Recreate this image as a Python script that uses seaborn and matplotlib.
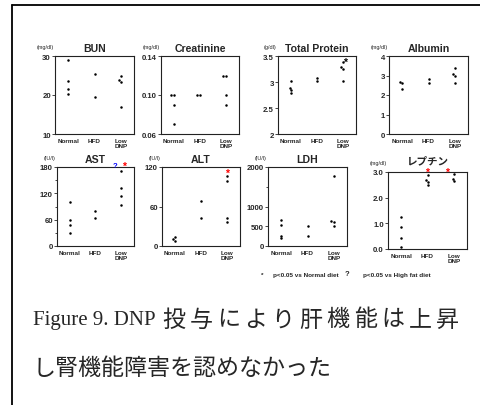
import numpy as np
import pandas as pd
import matplotlib
matplotlib.use("Agg")
import matplotlib.pyplot as plt
from matplotlib.ticker import FixedLocator
from matplotlib.lines import Line2D
import seaborn as sns

sns.set_style("ticks")
plt.rcParams["font.family"] = ["Liberation Sans", "Noto Sans CJK JP", "DejaVu Sans"]

groups = ["Normal", "HFD", "Low DNP"]
group_labels = ["Normal", "HFD", "Low\nDNP"]

# Serum chemistry per group
bun = [[29.0, 23.6, 21.6, 20.3], [25.5, 19.4], [23.4, 23.9, 24.8, 16.9]]
creatinine = [[0.10, 0.10, 0.09, 0.07], [0.10, 0.10], [0.12, 0.12, 0.10, 0.09]]
total_protein = [[3.02, 2.89, 2.85, 2.78], [3.08, 3.02], [3.02, 3.25, 3.28, 3.39]]
albumin = [[2.65, 2.60, 2.30], [2.82, 2.60], [2.60, 3.38, 2.99, 3.09]]
ast = [[101, 59, 47, 30], [64, 80], [172, 132, 115, 93]]
alt = [[13, 10, 7], [43, 68], [106, 98, 42, 36]]
ldh = [[666, 540, 261, 194], [245, 506], [1780, 625, 600, 498]]
leptin = [[1.26, 0.84, 0.44, 0.07], [2.89, 2.68, 2.60, 2.48], [2.92, 2.72, 2.63]]

panels = [
    dict(title="BUN", unit="(mg/dl)", values=bun, ylim=(10, 30),
         ticks=[10, 20, 30], labels=["10", "20", "30"], minor=[]),
    dict(title="Creatinine", unit="(mg/dl)", values=creatinine, ylim=(0.06, 0.14),
         ticks=[0.06, 0.10, 0.14], labels=["0.06", "0.10", "0.14"], minor=[]),
    dict(title="Total Protein", unit="(g/dl)", values=total_protein, ylim=(2, 3.5),
         ticks=[2, 2.5, 3, 3.5], labels=["2", "2.5", "3", "3.5"], minor=[]),
    dict(title="Albumin", unit="(mg/dl)", values=albumin, ylim=(0, 4),
         ticks=[0, 1, 2, 3, 4], labels=["0", "1", "2", "3", "4"], minor=[]),
    dict(title="AST", unit="(IU/l)", values=ast, ylim=(0, 180),
         ticks=[0, 60, 120, 180], labels=["0", "60", "120", "180"], minor=[30, 90, 150]),
    dict(title="ALT", unit="(IU/l)", values=alt, ylim=(0, 120),
         ticks=[0, 60, 120], labels=["0", "60", "120"], minor=[]),
    dict(title="LDH", unit="(IU/l)", values=ldh, ylim=(0, 2000),
         ticks=[0, 500, 1000, 2000], labels=["0", "500", "1000", "2000"], minor=[1500]),
    dict(title="レプチン", unit="(mg/dl)", values=leptin, ylim=(0, 3.0),
         ticks=[0, 1, 2, 3], labels=["0.0", "1.0", "2.0", "3.0"], minor=[]),
]

# Significance marks: (panel, group, y value, symbol, colour, x / y offsets in pt)
marks = [
    (2, 2, 3.39, "*", "black", 1.5, -2.4),
    (4, 2, 180, "?", "blue", -4.4, 0.2),
    (4, 2, 180, "*", "red", 2.0, -1.4),
    (5, 2, 106, "*", "red", 0.0, 0.4),
    (7, 1, 3.0, "*", "red", 0.0, -2.2),
    (7, 2, 3.0, "*", "red", -4.9, -2.2),
]

W, H = 480, 406
fig = plt.figure(figsize=(W / 100, H / 100), dpi=100)

# axes boxes in pixels: left, top, right, bottom
boxes = [
    (55, 57, 134, 135), (161, 57, 239, 135), (278, 57, 356, 135), (389, 57, 468, 135),
    (57, 168, 134, 247), (162, 168, 240, 247), (268, 168, 347, 247), (388, 173, 467, 250),
]
title_pad = [3.5, 3.5, 3.5, 3.5, 3.5, 3.5, 3.5, 6.0]

axes = []
for p, (l, t, r, b), tp in zip(panels, boxes, title_pad):
    ax = fig.add_axes([l / W, 1 - b / H, (r - l) / W, (b - t) / H])
    df = pd.DataFrame({
        "group": [g for g, vals in zip(groups, p["values"]) for _ in vals],
        "value": [v for vals in p["values"] for v in vals],
    })
    sns.swarmplot(data=df, x="group", y="value", order=groups, color="black",
                  size=1.8, linewidth=0, ax=ax)
    ax.set_xlim(-0.5, 2.5)
    ax.set_ylim(*p["ylim"])
    ax.set_xlabel("")
    ax.set_ylabel("")
    ax.set_xticks(range(3))
    ax.set_xticklabels(group_labels, fontsize=4.6, fontweight="bold",
                       linespacing=1.0, va="top")
    ax.set_yticks(p["ticks"])
    ax.set_yticklabels(p["labels"], fontsize=5.6, fontweight="bold")
    ax.yaxis.set_minor_locator(FixedLocator(p["minor"]))
    ax.tick_params(axis="x", length=0, pad=3)
    ax.tick_params(axis="y", which="major", length=2.2, width=0.6, pad=0.8)
    ax.tick_params(axis="y", which="minor", length=1.2, width=0.6)
    for s in ax.spines.values():
        s.set_linewidth(0.8)
        s.set_color("#222222")
    ax.set_title(p["title"], fontsize=7.6, fontweight="bold", pad=tp,
                 family=["Liberation Sans", "Noto Sans CJK JP"])
    ax.annotate(p["unit"], xy=(0, 1), xycoords="axes fraction",
                xytext=(-1, 6.5), textcoords="offset points",
                ha="right", va="center", fontsize=4.0)
    axes.append(ax)

for pi, gi, yv, sym, col, dx, dy in marks:
    axes[pi].annotate(sym, xy=(gi, yv), xycoords="data", xytext=(dx, dy),
                      textcoords="offset points", ha="center", va="baseline",
                      fontsize=7.5 if sym == "*" else 5.5, fontweight="bold",
                      color=col, annotation_clip=False, zorder=5)

# footnote
fy = 1 - 275 / H
fig.text(262 / W, fy, "*", fontsize=4.6, fontweight="bold", va="center", ha="center")
fig.text(273 / W, fy, "p<0.05 vs Normal diet", fontsize=4.6, fontweight="bold", va="center")
fig.text(347 / W, fy, "?", fontsize=5.5, fontweight="bold", va="center", ha="center")
fig.text(363 / W, fy, "p<0.05 vs High fat diet", fontsize=4.6, fontweight="bold", va="center")

# frame
fig.add_artist(Line2D([12 / W, 12 / W], [0, 1 - 6 / H], color="black", lw=1.3))
fig.add_artist(Line2D([12 / W, 1], [1 - 6 / H, 1 - 6 / H], color="black", lw=1.3))

# caption (first line justified to the right margin)
cjk = ["Noto Sans CJK JP"]
y1 = 1 - 320 / H
fig.text(33 / W, y1, "Figure 9. DNP", fontsize=15, va="center",
         family=["Liberation Serif"])
line1 = "投与により肝機能は上昇"
x0, x1, cw = 162, 459, 23
pitch = (x1 - x0 - cw) / (len(line1) - 1)
for i, ch in enumerate(line1):
    fig.text((x0 + cw / 2 + i * pitch) / W, y1, ch, fontsize=16.6, va="center",
             ha="center", family=cjk)
fig.text(33 / W, 1 - 369 / H, "し腎機能障害を認めなかった", fontsize=16.6,
         va="center", family=cjk)

fig.savefig("out.png", dpi=100)
